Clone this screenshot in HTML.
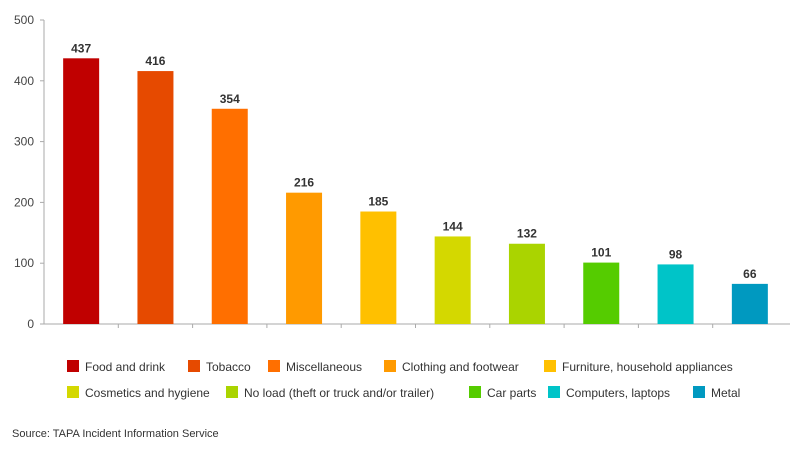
<!DOCTYPE html>
<html><head><meta charset="utf-8"><style>
body{margin:0;background:#fff;font-family:"Liberation Sans",sans-serif}
svg text{font-family:"Liberation Sans",sans-serif}
</style></head><body>
<svg width="800" height="450">
<g id="axes"></g><g id="bars"></g><g id="legend"></g>
<text x="12" y="437" font-size="11" fill="#333">Source: TAPA Incident Information Service</text>
</svg>
<script>
const categories=["Food and drink","Tobacco","Miscellaneous","Clothing and footwear","Furniture, household appliances","Cosmetics and hygiene","No load (theft or truck and/or trailer)","Car parts","Computers, laptops","Metal"];
const values=[437,416,354,216,185,144,132,101,98,66];
const colors=["#c00000","#e64a00","#ff6f00","#ff9a00","#ffc000","#d4d800","#aad400","#55cc00","#00c4c8","#0099c0"];
const yTicks=[0,100,200,300,400,500];
const NS="http://www.w3.org/2000/svg";
const x0=44,x1=787,yTop=20,yBot=324,yMax=500;
const y=v=>yBot-(v/yMax)*(yBot-yTop);
const step=(x1-x0)/categories.length;
const xc=i=>x0+step*(i+0.5);
function mk(t,a,p){const e=document.createElementNS(NS,t);for(const k in a)e.setAttribute(k,a[k]);p.appendChild(e);return e;}
const ax=document.getElementById('axes');
let l=mk('line',{x1:x0,y1:yTop,x2:x0,y2:yBot,stroke:'#aaa'},ax);


l=mk('line',{x1:x0,y1:yBot,x2:790,y2:yBot,stroke:'#aaa'},ax);


yTicks.forEach(t=>{
 mk('line',{x1:x0-4,y1:y(t),x2:x0,y2:y(t),stroke:'#aaa'},ax);
 const tx=mk('text',{x:x0-10,y:y(t)+4,'text-anchor':'end','font-size':12,fill:'#444'},ax);
 tx.textContent=t;
 
 
});
for(let i=1;i<categories.length;i++)mk('line',{x1:x0+step*i,y1:yBot,x2:x0+step*i,y2:yBot+4,stroke:'#aaa'},ax);
const bg=document.getElementById('bars');
values.forEach((v,i)=>{
 const r=mk('rect',{x:xc(i)-18,y:y(v),width:36,height:yBot-y(v),fill:colors[i]},bg);
 
 
 const t=mk('text',{x:xc(i),y:y(v)-6,'text-anchor':'middle','font-size':12,'font-weight':'bold',fill:'#333'},bg);
 t.textContent=v;
 
 
});
const lg=document.getElementById('legend');
const lx=[67,188,268,384,544,67,226,469,548,693];
categories.forEach((c,i)=>{
 const yy=i<5?366:392;
 const g=mk('g',{},lg);
 
 
 mk('rect',{x:lx[i],y:yy-6,width:12,height:12,fill:colors[i]},g);
 const t=mk('text',{x:lx[i]+18,y:yy+5,'font-size':12,fill:'#333'},g);
 t.textContent=c;
});
</script>
</body></html>
